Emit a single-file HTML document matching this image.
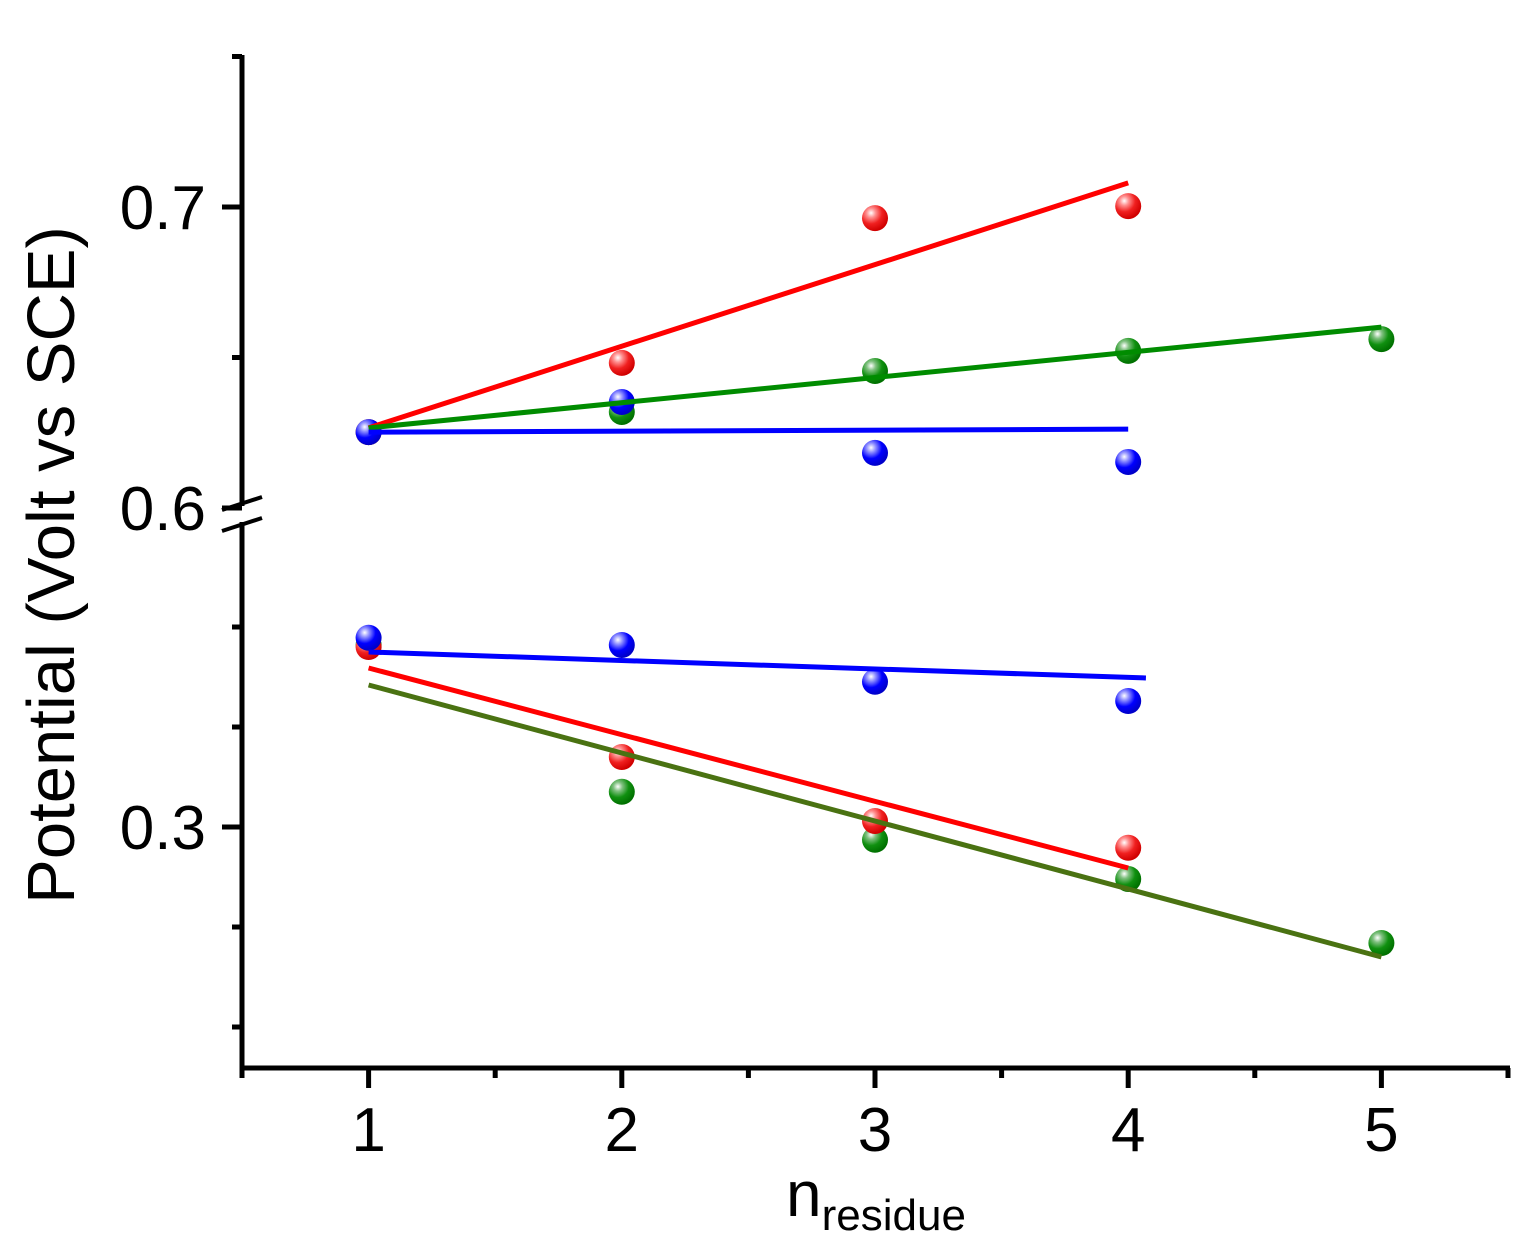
<!DOCTYPE html>
<html><head><meta charset="utf-8"><style>
html,body{margin:0;padding:0;background:#fff;}
svg{display:block;font-family:"Liberation Sans",Arial,sans-serif;}
</style></head><body>
<svg id="chart" width="1532" height="1253" viewBox="0 0 1532 1253" xmlns="http://www.w3.org/2000/svg">
<defs>
<radialGradient id="gb" cx="0.35" cy="0.3" r="0.7"><stop offset="0" stop-color="#fff"/><stop offset="0.25" stop-color="#9090ff"/><stop offset="0.6" stop-color="#0000ff"/><stop offset="1" stop-color="#0000c8"/></radialGradient>
<radialGradient id="gr" cx="0.35" cy="0.3" r="0.7"><stop offset="0" stop-color="#fff"/><stop offset="0.25" stop-color="#ff9090"/><stop offset="0.6" stop-color="#f02020"/><stop offset="1" stop-color="#d00000"/></radialGradient>
<radialGradient id="gg" cx="0.35" cy="0.3" r="0.7"><stop offset="0" stop-color="#fff"/><stop offset="0.25" stop-color="#80c080"/><stop offset="0.6" stop-color="#109010"/><stop offset="1" stop-color="#007000"/></radialGradient>
</defs>
<g id="marks"></g>
<g id="axes"></g>
</svg>
<script>
// data
const xCats = [1, 2, 3, 4, 5];
const upperTicks = [0.6, 0.7];
const lowerTicks = [0.3];
const upperRed = [0.6252, 0.6482, 0.6963, 0.7003];
const upperGreen = [0.6252, 0.6319, 0.6455, 0.6522, 0.6561];
const upperBlue = [0.6252, 0.6352, 0.6183, 0.6153];
const lowerBlue = [0.3473, 0.3455, 0.3363, 0.3315];
const lowerRed = [0.3450, 0.3175, 0.3015, 0.2948];
const lowerGreen = [0.3455, 0.3088, 0.2968, 0.2870, 0.2710];
// fit lines: [x0, y0, x1, y1]
const fitUpperRed = [1, 0.6266, 4, 0.7080];
const fitUpperGreen = [1, 0.6266, 5, 0.6601];
const fitUpperBlue = [1, 0.6252, 4, 0.6262];
const fitLowerBlue = [1, 0.34375, 4.07, 0.33725];
const fitLowerRed = [1, 0.33975, 4, 0.28975];
const fitLowerGreen = [1, 0.3355, 5, 0.2675];

const NS = 'http://www.w3.org/2000/svg';
const X = v => 242 + (v - 0.5) * 253.2;
const YU = v => 207 - (v - 0.7) * 3010;
const YL = v => 827 - (v - 0.3) * 4000;
const marks = document.getElementById('marks');
const axes = document.getElementById('axes');
function mk(tag, attrs, parent) {
  const e = document.createElementNS(NS, tag);
  for (const k in attrs) e.setAttribute(k, attrs[k]);
  parent.appendChild(e);
  return e;
}
function points(vals, yf, grad, name) {
  vals.forEach((v, i) => {
    const c = mk('circle', {cx: X(xCats[i]), cy: yf(v), r: 13, fill: 'url(#' + grad + ')'}, marks);
    
    
  });
}
function fit(f, yf, color, name) {
  const l = mk('line', {x1: X(f[0]), y1: yf(f[1]), x2: X(f[2]), y2: yf(f[3]), stroke: color, 'stroke-width': 5}, marks);
  
  
}
points(lowerGreen, YL, 'gg', 'lower-green');
points(lowerRed, YL, 'gr', 'lower-red');
points(lowerBlue, YL, 'gb', 'lower-blue');
points(upperGreen, YU, 'gg', 'upper-green');
points(upperRed, YU, 'gr', 'upper-red');
points(upperBlue, YU, 'gb', 'upper-blue');
fit(fitUpperRed, YU, '#ff0000', 'upper-red');
fit(fitUpperGreen, YU, '#008c00', 'upper-green');
fit(fitUpperBlue, YU, '#0000ff', 'upper-blue');
fit(fitLowerBlue, YL, '#0000ff', 'lower-blue');
fit(fitLowerRed, YL, '#ff0000', 'lower-red');
fit(fitLowerGreen, YL, '#4a7212', 'lower-green');

// axes
let e;
e = mk('line', {x1: 242, y1: 55, x2: 242, y2: 506, stroke: '#000', 'stroke-width': 5}, axes);
 
e = mk('line', {x1: 242, y1: 522, x2: 242, y2: 1071, stroke: '#000', 'stroke-width': 5}, axes);
 
e = mk('line', {x1: 240, y1: 1068, x2: 1510, y2: 1068, stroke: '#000', 'stroke-width': 5}, axes);
 
e = mk('line', {x1: 222, y1: 510, x2: 262, y2: 497, stroke: '#000', 'stroke-width': 4}, axes);
 
e = mk('line', {x1: 222, y1: 531, x2: 262, y2: 518, stroke: '#000', 'stroke-width': 4}, axes);
 

function tickY(y, len) {
  const t = mk('line', {x1: 242 - len, y1: y, x2: 242, y2: y, stroke: '#000', 'stroke-width': 5}, axes);
   
}
function labelY(y, txt) {
  const t = mk('text', {x: 206, y: y + 22, 'font-size': 62, 'text-anchor': 'end', fill: '#000'}, axes);
  t.textContent = txt;
   
}
upperTicks.forEach(v => { tickY(YU(v), 20); labelY(YU(v), v.toFixed(1)); });
[0.65, 0.75].forEach(v => tickY(YU(v), 10));
lowerTicks.forEach(v => { tickY(YL(v), 20); labelY(YL(v), v.toFixed(1)); });
[0.35, 0.325, 0.275, 0.25].forEach(v => tickY(YL(v), 10));

xCats.forEach(v => {
  const t = mk('line', {x1: X(v), y1: 1068, x2: X(v), y2: 1088, stroke: '#000', 'stroke-width': 5}, axes);
   
  const l = mk('text', {x: X(v), y: 1151, 'font-size': 62, 'text-anchor': 'middle', fill: '#000'}, axes);
  l.textContent = String(v);
   
});
[0.5, 1.5, 2.5, 3.5, 4.5, 5.5].forEach(v => {
  const t = mk('line', {x1: X(v), y1: 1068, x2: X(v), y2: 1078, stroke: '#000', 'stroke-width': 5}, axes);
   
});

const xt = mk('text', {x: 876, y: 1216, 'font-size': 64, 'text-anchor': 'middle', fill: '#000'}, axes);
 
xt.innerHTML = 'n<tspan font-size="44" dy="14">residue</tspan>';
const yt = mk('text', {x: 0, y: 0, 'font-size': 67, 'text-anchor': 'middle', fill: '#000', transform: 'translate(74,565) rotate(-90)'}, axes);
yt.textContent = 'Potential (Volt vs SCE)';
 
</script>
</body></html>
